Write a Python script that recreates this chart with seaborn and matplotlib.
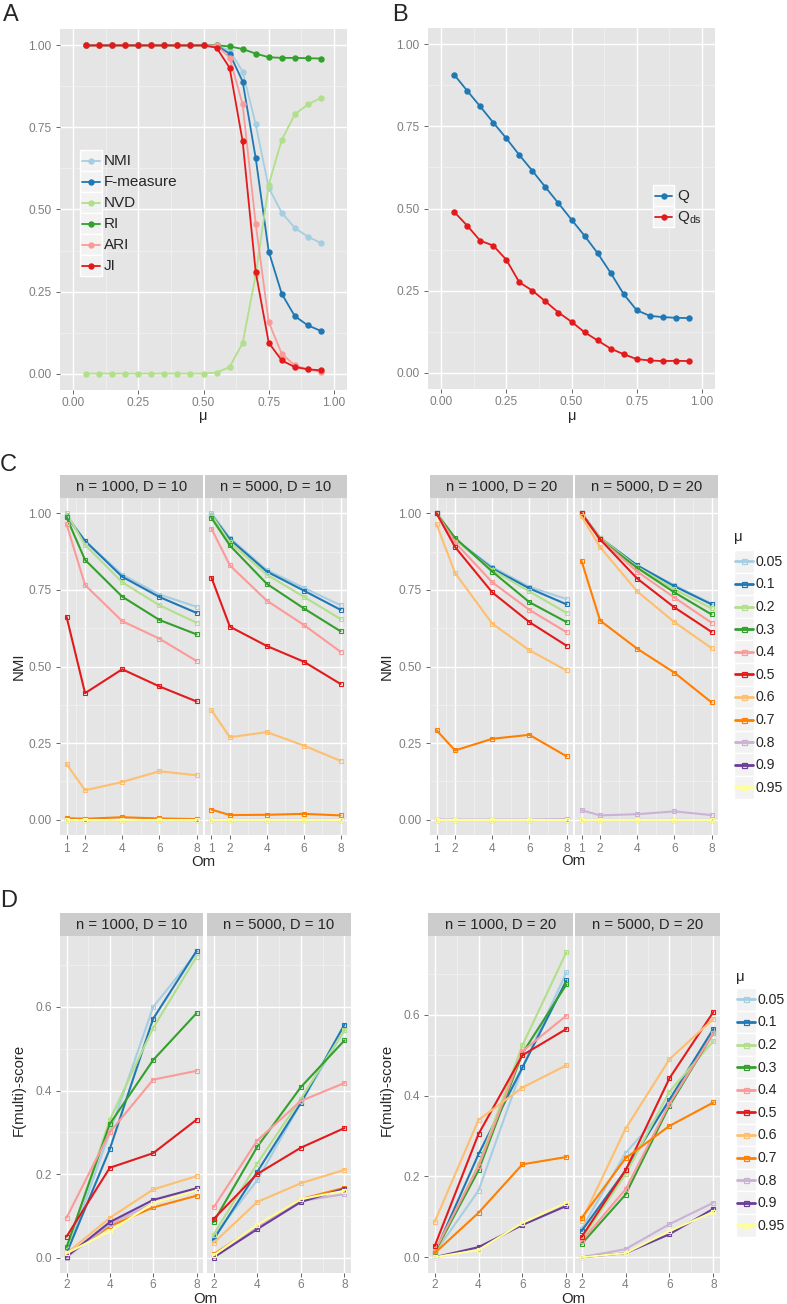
import numpy as np
import pandas as pd
import matplotlib
matplotlib.use("Agg")
import matplotlib.pyplot as plt
from matplotlib.patches import Rectangle
from matplotlib.ticker import FormatStrFormatter
import seaborn as sns

# ---------- data ----------
mu_a = [0.05, 0.10, 0.15, 0.20, 0.25, 0.30, 0.35, 0.40, 0.45, 0.50,
        0.55, 0.60, 0.65, 0.70, 0.75, 0.80, 0.85, 0.90, 0.95]
measures = ["NMI", "F-measure", "NVD", "RI", "ARI", "JI"]
nmi_a = [1, 1, 1, 1, 1, 1, 1, 1, 1, 1, 1, 0.985, 0.92, 0.76, 0.566, 0.49, 0.444, 0.417, 0.398]
fmeas_a = [1, 1, 1, 1, 1, 1, 1, 1, 1, 1, 1, 0.975, 0.89, 0.657, 0.372, 0.243, 0.175, 0.147, 0.13]
nvd_a = [0, 0, 0, 0, 0, 0, 0, 0, 0, 0, 0.003, 0.02, 0.093, 0.30, 0.576, 0.712, 0.79, 0.82, 0.84]
ri_a = [1, 1, 1, 1, 1, 1, 1, 1, 1, 1, 1, 0.997, 0.989, 0.975, 0.964, 0.962, 0.962, 0.961, 0.96]
ari_a = [1, 1, 1, 1, 1, 1, 1, 1, 1, 1, 1, 0.963, 0.82, 0.457, 0.157, 0.06, 0.025, 0.013, 0.005]
ji_a = [1, 1, 1, 1, 1, 1, 1, 1, 1, 1, 0.993, 0.932, 0.708, 0.31, 0.094, 0.04, 0.02, 0.013, 0.01]

q_b = [0.908, 0.859, 0.811, 0.762, 0.714, 0.663, 0.615, 0.565, 0.516, 0.466,
       0.417, 0.364, 0.304, 0.239, 0.19, 0.173, 0.169, 0.167, 0.166]
qds_b = [0.49, 0.448, 0.402, 0.387, 0.344, 0.275, 0.25, 0.217, 0.183, 0.155,
         0.123, 0.098, 0.073, 0.056, 0.041, 0.037, 0.035, 0.036, 0.035]

mu_levels = ["0.05", "0.1", "0.2", "0.3", "0.4", "0.5", "0.6", "0.7", "0.8", "0.9", "0.95"]
om_c = [1, 2, 4, 6, 8]
om_d = [2, 4, 6, 8]
facets = ["n = 1000, D = 10", "n = 5000, D = 10", "n = 1000, D = 20", "n = 5000, D = 20"]

# NMI, rows = mu levels, cols = Om
nmi_1000_10 = [[0.995, 0.91, 0.80, 0.735, 0.695],
               [0.99, 0.91, 0.793, 0.727, 0.675],
               [1.0, 0.897, 0.775, 0.70, 0.643],
               [0.987, 0.848, 0.728, 0.652, 0.605],
               [0.965, 0.766, 0.648, 0.591, 0.518],
               [0.663, 0.413, 0.491, 0.435, 0.386],
               [0.182, 0.096, 0.123, 0.158, 0.145],
               [0.005, 0.003, 0.008, 0.004, 0.002],
               [0.0, 0.0, 0.0, 0.0, 0.0],
               [0.0, 0.0, 0.0, 0.0, 0.0],
               [0.0, 0.0, 0.0, 0.0, 0.0]]
nmi_5000_10 = [[1.0, 0.92, 0.815, 0.757, 0.70],
               [0.995, 0.915, 0.81, 0.748, 0.685],
               [0.995, 0.905, 0.80, 0.728, 0.655],
               [0.985, 0.895, 0.77, 0.69, 0.615],
               [0.95, 0.83, 0.715, 0.636, 0.548],
               [0.79, 0.63, 0.567, 0.516, 0.443],
               [0.357, 0.269, 0.286, 0.242, 0.192],
               [0.033, 0.015, 0.016, 0.019, 0.014],
               [0.0, 0.0, 0.0, 0.0, 0.0],
               [0.0, 0.0, 0.0, 0.0, 0.0],
               [0.0, 0.0, 0.0, 0.0, 0.0]]
nmi_1000_20 = [[1.0, 0.915, 0.825, 0.76, 0.72],
               [1.0, 0.915, 0.82, 0.755, 0.703],
               [1.0, 0.915, 0.815, 0.745, 0.675],
               [1.0, 0.92, 0.81, 0.71, 0.645],
               [1.0, 0.905, 0.775, 0.685, 0.612],
               [1.0, 0.89, 0.742, 0.645, 0.568],
               [0.965, 0.805, 0.64, 0.553, 0.487],
               [0.292, 0.226, 0.264, 0.277, 0.207],
               [0.0, 0.0, 0.0, 0.0, 0.002],
               [0.0, 0.0, 0.0, 0.0, 0.0],
               [0.0, 0.0, 0.0, 0.0, 0.0]]
nmi_5000_20 = [[1.0, 0.92, 0.83, 0.765, 0.705],
               [1.0, 0.92, 0.83, 0.762, 0.703],
               [1.0, 0.92, 0.825, 0.752, 0.69],
               [1.0, 0.915, 0.822, 0.742, 0.67],
               [1.0, 0.915, 0.81, 0.725, 0.643],
               [1.0, 0.915, 0.787, 0.693, 0.613],
               [0.99, 0.89, 0.745, 0.645, 0.56],
               [0.845, 0.65, 0.558, 0.48, 0.383],
               [0.031, 0.014, 0.018, 0.027, 0.015],
               [0.0, 0.0, 0.0, 0.0, 0.0],
               [0.0, 0.0, 0.0, 0.0, 0.0]]

# F(multi)-score, rows = mu levels, cols = Om
fs_1000_10 = [[0.01, 0.30, 0.60, 0.73],
              [0.01, 0.26, 0.572, 0.734],
              [0.02, 0.33, 0.55, 0.72],
              [0.025, 0.32, 0.473, 0.585],
              [0.095, 0.30, 0.426, 0.447],
              [0.05, 0.215, 0.25, 0.33],
              [0.01, 0.095, 0.163, 0.195],
              [0.005, 0.075, 0.12, 0.148],
              [0.0, 0.08, 0.13, 0.16],
              [0.002, 0.085, 0.138, 0.166],
              [0.01, 0.063, 0.13, 0.16]]
fs_5000_10 = [[0.05, 0.185, 0.37, 0.545],
              [0.043, 0.205, 0.37, 0.558],
              [0.055, 0.225, 0.38, 0.545],
              [0.085, 0.265, 0.408, 0.52],
              [0.12, 0.28, 0.375, 0.418],
              [0.092, 0.20, 0.263, 0.31],
              [0.035, 0.133, 0.178, 0.21],
              [0.008, 0.075, 0.14, 0.167],
              [0.003, 0.073, 0.135, 0.152],
              [0.0, 0.068, 0.133, 0.165],
              [0.005, 0.078, 0.14, 0.16]]
fs_1000_20 = [[0.01, 0.165, 0.47, 0.705],
              [0.01, 0.255, 0.47, 0.685],
              [0.005, 0.23, 0.525, 0.755],
              [0.012, 0.215, 0.505, 0.675],
              [0.015, 0.225, 0.51, 0.598],
              [0.027, 0.305, 0.50, 0.565],
              [0.087, 0.34, 0.42, 0.475],
              [0.01, 0.11, 0.23, 0.248],
              [0.0, 0.02, 0.082, 0.13],
              [0.0, 0.025, 0.08, 0.127],
              [0.0, 0.018, 0.085, 0.135]]
fs_5000_20 = [[0.07, 0.258, 0.38, 0.56],
              [0.065, 0.215, 0.39, 0.565],
              [0.045, 0.205, 0.41, 0.535],
              [0.033, 0.155, 0.375, 0.555],
              [0.04, 0.168, 0.38, 0.555],
              [0.05, 0.215, 0.443, 0.607],
              [0.09, 0.318, 0.49, 0.59],
              [0.097, 0.245, 0.325, 0.383],
              [0.0, 0.02, 0.082, 0.135],
              [0.0, 0.01, 0.057, 0.12],
              [0.0, 0.01, 0.065, 0.112]]

# ---------- style ----------
sns.set_style("darkgrid", {"axes.facecolor": "#E5E5E5", "grid.color": "white"})
plt.rcParams["font.family"] = ["Liberation Sans", "DejaVu Sans"]
plt.rcParams["mathtext.default"] = "regular"
pal = sns.color_palette("Paired", 12)[:11]

W, H = 787, 1304
fig = plt.figure(figsize=(W / 100, H / 100), dpi=100)


def ax_px(l, t, r, b):
    return fig.add_axes([l / W, 1 - b / H, (r - l) / W, (b - t) / H])


def gg(ax, xmaj, xmin, ymaj, ymin, xlim, ylim, yfmt, show_y=True, pad=3):
    ax.set_facecolor("#E5E5E5")
    for s in ax.spines.values():
        s.set_visible(False)
    ax.set_xlim(*xlim)
    ax.set_ylim(*ylim)
    ax.set_xticks(xmaj)
    ax.set_xticks(xmin, minor=True)
    ax.set_yticks(ymaj)
    ax.set_yticks(ymin, minor=True)
    ax.yaxis.set_major_formatter(FormatStrFormatter(yfmt))
    ax.grid(which="major", color="white", lw=1.0)
    ax.grid(which="minor", color="#F2F2F2", lw=0.5)
    ax.set_axisbelow(True)
    ax.tick_params(which="minor", length=0)
    ax.tick_params(which="major", length=3, width=0.6, color="#4D4D4D",
                   labelcolor="#7F7F7F", labelsize=8.6, pad=3,
                   bottom=True, left=show_y, labelleft=show_y)
    ax.tick_params(axis="x", pad=pad)
    ax.set_xlabel("")
    ax.set_ylabel("")


over = fig.add_axes([0, 0, 1, 1], zorder=10)
over.set_xlim(0, W)
over.set_ylim(H, 0)
over.axis("off")

# ---------- panel A ----------
df_a = pd.DataFrame({
    "mu": mu_a * 6,
    "value": nmi_a + fmeas_a + nvd_a + ri_a + ari_a + ji_a,
    "measure": np.repeat(measures, len(mu_a)),
})
colors_a = [pal[i] for i in range(6)]
ax_a = ax_px(60, 29, 347, 390)
sns.lineplot(data=df_a, x="mu", y="value", hue="measure", hue_order=measures,
             palette=colors_a, marker="o", markersize=4.6, markeredgewidth=0,
             lw=1.3, legend=False, ax=ax_a)
tk = [0, 0.25, 0.5, 0.75, 1.0]
mn = [0.125, 0.375, 0.625, 0.875]
gg(ax_a, tk, mn, tk, mn, (-0.05, 1.05), (-0.05, 1.05), "%.2f", pad=2)
ax_a.xaxis.set_major_formatter(FormatStrFormatter("%.2f"))

for i, m in enumerate(measures):
    y0 = 150 + 21 * i
    over.add_patch(Rectangle((80, y0), 22, 21, fc="#F2F2F2", ec="white", lw=1))
    over.plot([82, 100], [y0 + 10.5, y0 + 10.5], color=colors_a[i], lw=1.3)
    over.plot([91], [y0 + 10.5], "o", color=colors_a[i], ms=4.6, mew=0)
    over.text(104, y0 + 11, m, va="center", ha="left", fontsize=11)

# ---------- panel B ----------
df_b = pd.DataFrame({
    "mu": mu_a * 2,
    "value": q_b + qds_b,
    "measure": np.repeat(["Q", "Qds"], len(mu_a)),
})
ax_b = ax_px(428, 28, 715, 389)
sns.lineplot(data=df_b, x="mu", y="value", hue="measure", hue_order=["Q", "Qds"],
             palette=[pal[1], pal[5]], marker="o", markersize=4.6, markeredgewidth=0,
             lw=1.3, legend=False, ax=ax_b)
gg(ax_b, tk, mn, tk, mn, (-0.05, 1.05), (-0.05, 1.05), "%.2f", pad=2)
ax_b.xaxis.set_major_formatter(FormatStrFormatter("%.2f"))
for i, (lab, c) in enumerate([("Q", pal[1]), ("Q$_{ds}$", pal[5])]):
    y0 = 185 + 21 * i
    over.add_patch(Rectangle((653, y0), 21, 21, fc="#F2F2F2", ec="white", lw=1))
    over.plot([655, 672], [y0 + 10.5, y0 + 10.5], color=c, lw=1.3)
    over.plot([663.5], [y0 + 10.5], "o", color=c, ms=4.6, mew=0)
    over.text(677, y0 + 11, lab, va="center", ha="left", fontsize=11)

over.text(203, 420, "μ", ha="center", va="baseline", fontsize=10.5)
over.text(572, 420, "μ", ha="center", va="baseline", fontsize=10.5)


# ---------- panels C and D ----------
def long_df(tables, om):
    rows = []
    for f, tab in zip(facets, tables):
        for lev, vals in zip(mu_levels, tab):
            for o, v in zip(om, vals):
                rows.append({"facet": f, "mu": lev, "Om": o, "value": v})
    return pd.DataFrame(rows)


df_c = long_df([nmi_1000_10, nmi_5000_10, nmi_1000_20, nmi_5000_20], om_c)
df_d = long_df([fs_1000_10, fs_5000_10, fs_1000_20, fs_5000_20], om_d)

c_boxes = [(60, 203), (205, 347), (430, 573), (575, 718)]
d_boxes = [(60, 203), (207, 351), (428, 573), (575, 720)]
ytk_c = [0, 0.25, 0.5, 0.75, 1.0]
ymn_c = [0.125, 0.375, 0.625, 0.875]
ytk_d = [0, 0.2, 0.4, 0.6]
ymn_d = [0.1, 0.3, 0.5, 0.7]
ylims_d = [(-0.037, 0.77), (-0.037, 0.77), (-0.039, 0.795), (-0.039, 0.795)]

for k, f in enumerate(facets):
    # C
    l, r = c_boxes[k]
    ax = ax_px(l, 498, r, 835)
    sns.lineplot(data=df_c[df_c["facet"] == f], x="Om", y="value", hue="mu",
                 hue_order=mu_levels, palette=pal, marker="s", markersize=3.2,
                 markerfacecolor="none", markeredgecolor=None, markeredgewidth=0.8,
                 lw=1.5, legend=False, ax=ax)
    gg(ax, om_c, [1.5, 3, 5, 7], ytk_c, ymn_c, (0.65, 8.35), (-0.05, 1.05), "%.2f",
       show_y=(k % 2 == 0))
    over.add_patch(Rectangle((l, 475), r - l, 23, fc="#CCCCCC", ec="none"))
    over.text((l + r) / 2, 487, f, ha="center", va="center", fontsize=10.7)

    # D
    l, r = d_boxes[k]
    ax = ax_px(l, 936, r, 1273)
    sns.lineplot(data=df_d[df_d["facet"] == f], x="Om", y="value", hue="mu",
                 hue_order=mu_levels, palette=pal, marker="s", markersize=3.2,
                 markerfacecolor="none", markeredgecolor=None, markeredgewidth=0.8,
                 lw=1.5, legend=False, ax=ax)
    gg(ax, om_d, [3, 5, 7], ytk_d, ymn_d, (1.7, 8.3), ylims_d[k], "%.1f",
       show_y=(k % 2 == 0), pad=1.5)
    over.add_patch(Rectangle((l, 913), r - l, 23, fc="#CCCCCC", ec="none"))
    over.text((l + r) / 2, 925, f, ha="center", va="center", fontsize=10.7)

# axis titles
over.text(19, 666, "NMI", rotation=90, ha="center", va="center", fontsize=10.7)
over.text(387, 666, "NMI", rotation=90, ha="center", va="center", fontsize=10.7)
over.text(203, 866, "Om", ha="center", va="baseline", fontsize=10.7)
over.text(573, 865, "Om", ha="center", va="baseline", fontsize=10.7)
over.text(19, 1090, "F(multi)-score", rotation=90, ha="center", va="center", fontsize=10.7)
over.text(387, 1090, "F(multi)-score", rotation=90, ha="center", va="center", fontsize=10.7)
over.text(205, 1303, "Om", ha="center", va="baseline", fontsize=10.7)
over.text(573, 1303, "Om", ha="center", va="baseline", fontsize=10.7)

# mu legends for C and D
for lx, ty, top in [(734, 537, 550), (736, 977, 988)]:
    over.text(lx, ty, "μ", ha="left", va="center", fontsize=10.7)
    for i, lev in enumerate(mu_levels):
        y0 = top + 22.6 * i
        over.add_patch(Rectangle((lx, y0), 20, 22.6, fc="#F2F2F2", ec="white", lw=1))
        over.plot([lx + 1, lx + 19], [y0 + 11.3, y0 + 11.3], color=pal[i], lw=2.0)
        over.plot([lx + 10], [y0 + 11.3], "s", ms=3.6, mfc="none", mec=pal[i], mew=0.9)
        over.text(lx + 21.5, y0 + 11.8, lev, ha="left", va="center", fontsize=10.2)

# panel letters
over.text(3, 21, "A", fontsize=17, va="baseline")
over.text(392, 21, "B", fontsize=17, va="baseline")
over.text(0, 471, "C", fontsize=17, va="baseline")
over.text(0, 907, "D", fontsize=17, va="baseline")

fig.savefig("out.png", dpi=100)
